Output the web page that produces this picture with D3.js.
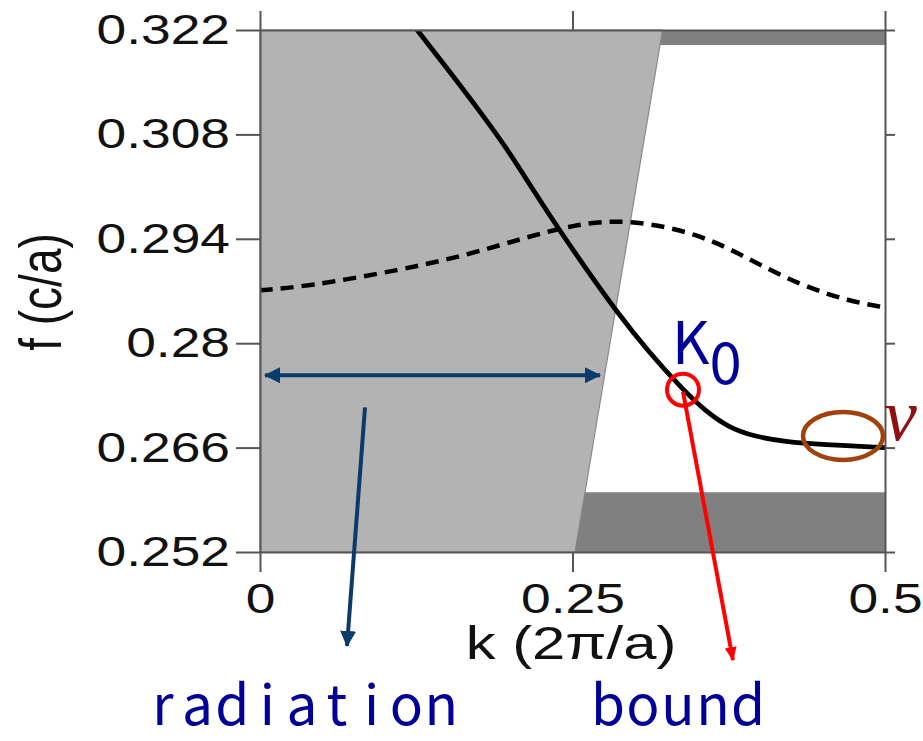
<!DOCTYPE html>
<html>
<head>
<meta charset="utf-8">
<script src="https://cdn.jsdelivr.net/npm/d3@7"></script>
<style>
  body { margin: 0; background: #fff; }
  svg { display: block; }
</style>
</head>
<body>
<script>
// tick values and labels
var yTicks = [0.252, 0.266, 0.28, 0.294, 0.308, 0.322];
var yTickLabels = ["0.252", "0.266", "0.28", "0.294", "0.308", "0.322"];
var xTicks = [0, 0.25, 0.5];
var xTickLabels = ["0", "0.25", "0.5"];

// solid band (guided mode)
var kSolid = [0.122, 0.15, 0.179, 0.2, 0.219, 0.239, 0.262, 0.285, 0.31, 0.338, 0.357, 0.375, 0.395, 0.42, 0.45, 0.5];
var fSolid = [0.3228, 0.3168, 0.3104, 0.3055, 0.3004, 0.2953, 0.2897, 0.2843, 0.2790, 0.2738, 0.2708, 0.2687, 0.2675, 0.2668, 0.2664, 0.2660];

// dashed band
var kDash = [0, 0.037, 0.112, 0.165, 0.211, 0.251, 0.293, 0.352, 0.392, 0.432, 0.472, 0.5];
var fDash = [0.2871, 0.2876, 0.2898, 0.2918, 0.2941, 0.2959, 0.2967, 0.2947, 0.2912, 0.2878, 0.2856, 0.2848];

// band gap edges (dark) and light line f = k
var gapLow = 0.260;
var gapHigh = 0.320;

// annotation anchors, data units [k, f]
var k0Point = [0.3384, 0.2735];
var vPoint = [0.4664, 0.26756];
var radArrow = [[0.004, 0.2757], [0.272, 0.2757]];
var radDown = [[0.084, 0.2714], [0.0696, 0.2394]];
var boundDown = [[0.3384, 0.2735], [0.3784, 0.2375]];

var margin = {left: 260, top: 30, right: 38, bottom: 189};
var width = 923 - margin.left - margin.right;
var height = 741 - margin.top - margin.bottom;

var svg = d3.select("body").append("svg")
    .attr("width", 923)
    .attr("height", 741);

svg.append("rect").attr("width", 923).attr("height", 741).attr("fill", "#fff");

var defs = svg.append("defs");
defs.append("clipPath").attr("id", "plot-clip")
    .append("rect").attr("width", width).attr("height", height);

function marker(id, color, len, half) {
  defs.append("marker")
      .attr("id", id)
      .attr("markerUnits", "userSpaceOnUse")
      .attr("viewBox", "0 " + (-half) + " " + len + " " + (2 * half))
      .attr("refX", len - 1)
      .attr("refY", 0)
      .attr("markerWidth", len)
      .attr("markerHeight", 2 * half)
      .attr("orient", "auto-start-reverse")
    .append("path")
      .attr("d", "M0," + (-half) + "L" + len + ",0L0," + half + "Z")
      .attr("fill", color);
}
marker("head-blue", "#0b3a6c", 16, 8);
marker("head-red", "#ff0000", 14, 6);

var g = svg.append("g")
    .attr("transform", "translate(" + margin.left + "," + margin.top + ")");

var x = d3.scaleLinear().domain([0, 0.5]).range([0, width]);
var y = d3.scaleLinear().domain([0.252, 0.322]).range([height, 0]);

var poly = d3.line().x(function(d) { return x(d[0]); }).y(function(d) { return y(d[1]); });

var fMin = y.domain()[0], fMax = y.domain()[1], kMax = x.domain()[1];

// light cone (radiation region)
g.append("path")
    .attr("d", poly([[0, fMin], [fMin, fMin], [fMax, fMax], [0, fMax]]) + "Z")
    .attr("fill", "#b3b3b3")
    .attr("stroke", "#8a8a8a")
    .attr("stroke-width", 1.2);

// dark bands outside the gap
g.append("path")
    .attr("d", poly([[fMin, fMin], [kMax, fMin], [kMax, gapLow], [gapLow, gapLow]]) + "Z")
    .attr("fill", "#808080");
g.append("path")
    .attr("d", poly([[gapHigh, gapHigh], [kMax, gapHigh], [kMax, fMax], [fMax, fMax]]) + "Z")
    .attr("fill", "#808080");

// curves
var curve = d3.line()
    .x(function(d) { return x(d[0]); })
    .y(function(d) { return y(d[1]); })
    .curve(d3.curveBasis);

var plot = g.append("g").attr("clip-path", "url(#plot-clip)");

plot.append("path")
    .datum(kDash.map(function(k, i) { return [k, fDash[i]]; }))
    .attr("d", curve)
    .attr("fill", "none")
    .attr("stroke", "#000")
    .attr("stroke-width", 4.5)
    .attr("stroke-dasharray", "13,8");

plot.append("path")
    .datum(kSolid.map(function(k, i) { return [k, fSolid[i]]; }))
    .attr("d", curve)
    .attr("fill", "none")
    .attr("stroke", "#000")
    .attr("stroke-width", 4.8);

// axes on all four sides
var sx = 1.27;
function styleAxis(sel) {
  sel.select(".domain").attr("stroke", "#555").attr("stroke-width", 2);
  sel.selectAll(".tick line").attr("stroke", "#555").attr("stroke-width", 2);
  sel.selectAll(".tick text")
      .attr("fill", "#111")
      .style("font-family", "'Liberation Sans', Arial, sans-serif")
      .style("font-size", "42px");
}

var yAxisGroup = g.append("g")
    .call(d3.axisLeft(y).tickValues(yTicks)
      .tickFormat(function(d, i) { return yTickLabels[i]; })
      .tickSize(24).tickSizeOuter(0));
styleAxis(yAxisGroup);
yAxisGroup.selectAll(".tick text")
    .attr("x", -30 / sx)
    .attr("transform", "scale(" + sx + ",1)");

var xAxisGroup = g.append("g")
    .attr("transform", "translate(0," + height + ")")
    .call(d3.axisBottom(x).tickValues(xTicks)
      .tickFormat(function(d, i) { return xTickLabels[i]; })
      .tickSize(20).tickSizeOuter(0));
styleAxis(xAxisGroup);
xAxisGroup.selectAll(".tick text")
    .attr("y", 31)
    .attr("transform", "scale(" + sx + ",1)");

styleAxis(g.append("g")
    .call(d3.axisTop(x).tickValues(xTicks).tickFormat("").tickSize(19).tickSizeOuter(0)));
styleAxis(g.append("g")
    .attr("transform", "translate(" + width + ",0)")
    .call(d3.axisRight(y).tickValues(yTicks).tickFormat("").tickSize(10).tickSizeOuter(0)));

// axis titles
svg.append("text")
    .attr("transform", "translate(571,659) scale(1.3,1)")
    .attr("text-anchor", "middle")
    .attr("fill", "#111")
    .style("font-family", "'Liberation Sans', Arial, sans-serif")
    .style("font-size", "46px")
    .text("k (2\u03c0/a)");

svg.append("text")
    .attr("transform", "translate(61,292) scale(1.3,1) rotate(-90)")
    .attr("text-anchor", "middle")
    .attr("fill", "#111")
    .style("font-family", "'Liberation Sans', Arial, sans-serif")
    .style("font-size", "46px")
    .text("f (c/a)");

// annotations
var ann = g.append("g");

ann.append("path")
    .attr("d", poly(radArrow))
    .attr("stroke", "#0b3a6c").attr("stroke-width", 4).attr("fill", "none")
    .attr("marker-start", "url(#head-blue)")
    .attr("marker-end", "url(#head-blue)");

ann.append("path")
    .attr("d", poly(radDown))
    .attr("stroke", "#0b3a6c").attr("stroke-width", 4).attr("fill", "none")
    .attr("marker-end", "url(#head-blue)");

ann.append("path")
    .attr("d", poly(boundDown))
    .attr("stroke", "#ff0000").attr("stroke-width", 4).attr("fill", "none")
    .attr("marker-end", "url(#head-red)");

ann.append("circle")
    .attr("cx", x(k0Point[0])).attr("cy", y(k0Point[1]) - 2)
    .attr("r", 16)
    .attr("fill", "none").attr("stroke", "#ff0000").attr("stroke-width", 4);

ann.append("ellipse")
    .attr("cx", x(vPoint[0])).attr("cy", y(vPoint[1]))
    .attr("rx", 40).attr("ry", 24)
    .attr("fill", "none").attr("stroke", "#a0420c").attr("stroke-width", 4.5);

var gothic = "'Noto Sans CJK JP', 'Noto Sans', sans-serif";
var k0 = svg.append("text")
    .attr("x", 672).attr("y", 364)
    .attr("fill", "#000099")
    .style("font-family", gothic)
    .style("font-size", "58px");
k0.append("tspan").text("K");
k0.append("tspan").attr("dy", 20).attr("dx", 0).text("0");

svg.append("text")
    .attr("x", 884).attr("y", 440)
    .attr("fill", "#8f1111")
    .style("font-family", "'Liberation Serif', 'DejaVu Serif', serif")
    .style("font-style", "italic")
    .style("font-size", "74px")
    .text("v");

// fixed-pitch words: one centred slot per character
function pitched(word, cx, pitch) {
  var n = word.length;
  var xs = d3.range(n).map(function(i) { return cx + (i - (n - 1) / 2) * pitch; });
  svg.append("text")
      .attr("x", xs.join(" "))
      .attr("y", 725)
      .attr("text-anchor", "middle")
      .attr("fill", "#000099")
      .style("font-family", gothic)
      .style("font-size", "55px")
      .text(word);
}
pitched("radiation", 302, 34.8);
pitched("bound", 678, 35);
</script>
</body>
</html>
